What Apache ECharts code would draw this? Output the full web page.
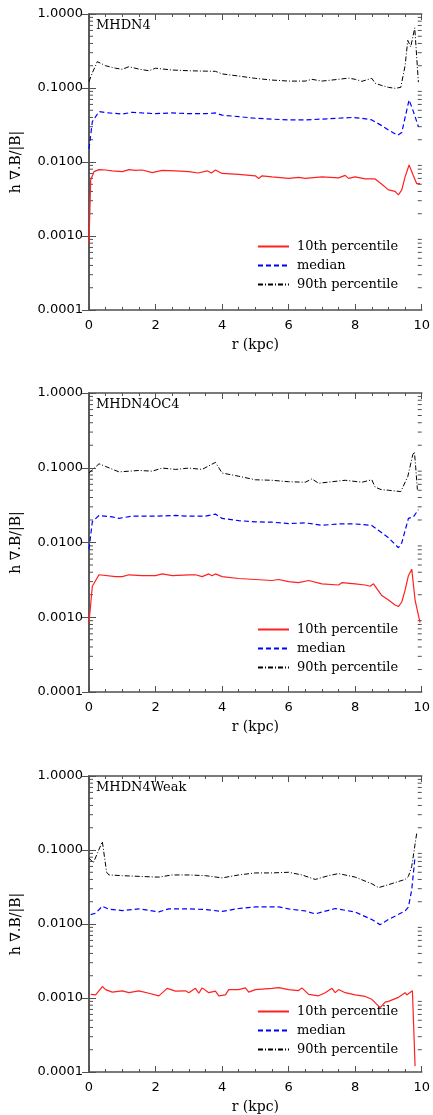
<!DOCTYPE html>
<html>
<head>
<meta charset="utf-8">
<script src="https://cdn.jsdelivr.net/npm/echarts@6/dist/echarts.min.js"></script>
<style>
html, body { margin: 0; padding: 0; background: #fff; }
#main { width: 433px; height: 1115px; }
</style>
</head>
<body>
<div id="main"></div>
<script>
// panel names and legend names
var panelNames = ["MHDN4", "MHDN4OC4", "MHDN4Weak"];
var seriesNames = ["10th percentile", "median", "90th percentile"];
var yTicks = [0.0001, 0.001, 0.01, 0.1, 1];
var xTicks = [0, 2, 4, 6, 8, 10];
// minor log ticks 2..9 of each decade
var minorY = [0.0002,0.0003,0.0004,0.0005,0.0006,0.0007,0.0008,0.0009,
	0.002,0.003,0.004,0.005,0.006,0.007,0.008,0.009,
	0.02,0.03,0.04,0.05,0.06,0.07,0.08,0.09,
	0.2,0.3,0.4,0.5,0.6,0.7,0.8,0.9];

// MHDN4  [r (kpc), value]
var p1Red = [[0,0.0008],[0.05,0.0057],[0.15,0.0074],[0.3,0.0079],[0.5,0.0078],[0.7,0.0076],[1.0,0.0074],[1.2,0.0079],[1.4,0.0077],[1.6,0.0078],[1.9,0.0072],[2.2,0.0077],[2.6,0.0076],[3.0,0.0074],[3.28,0.0071],[3.55,0.0076],[3.68,0.0071],[3.8,0.0078],[4.0,0.0070],[4.5,0.0068],[5.0,0.0065],[5.1,0.0060],[5.2,0.0065],[5.5,0.0063],[6.0,0.0060],[6.3,0.0062],[6.5,0.0060],[7.0,0.0063],[7.5,0.0061],[7.7,0.0066],[7.8,0.0060],[8.0,0.0063],[8.3,0.0059],[8.5,0.0059],[8.55,0.0056],[8.6,0.0059],[8.8,0.0050],[9.0,0.0042],[9.2,0.0040],[9.3,0.0036],[9.4,0.0042],[9.5,0.0063],[9.62,0.0091],[9.75,0.0065],[9.85,0.0051],[9.95,0.0051]];
var p1Med = [[0,0.015],[0.1,0.035],[0.3,0.048],[0.6,0.046],[1.0,0.0445],[1.3,0.047],[1.6,0.046],[2.0,0.045],[2.5,0.046],[3.0,0.045],[3.5,0.045],[3.8,0.046],[4.0,0.043],[4.5,0.041],[5.0,0.039],[5.5,0.038],[6.0,0.037],[6.5,0.037],[7.0,0.038],[7.5,0.039],[7.9,0.040],[8.2,0.039],[8.5,0.037],[8.8,0.031],[9.0,0.027],[9.28,0.023],[9.4,0.025],[9.5,0.04],[9.62,0.069],[9.75,0.048],[9.9,0.030]];
var p1P90 = [[0,0.122],[0.1,0.16],[0.25,0.227],[0.5,0.20],[0.8,0.185],[1.0,0.179],[1.2,0.194],[1.5,0.18],[1.8,0.171],[2.0,0.185],[2.5,0.175],[3.0,0.171],[3.5,0.169],[3.8,0.168],[4.0,0.155],[4.5,0.145],[5.0,0.135],[5.5,0.128],[6.0,0.124],[6.5,0.124],[6.7,0.131],[7.0,0.124],[7.5,0.131],[7.8,0.136],[8.0,0.131],[8.2,0.123],[8.5,0.135],[8.6,0.116],[8.8,0.108],[9.0,0.102],[9.2,0.099],[9.37,0.102],[9.5,0.2],[9.58,0.44],[9.67,0.36],[9.79,0.65],[9.85,0.68],[9.9,0.12]];

// MHDN4OC4
var p2Red = [[0,0.00085],[0.1,0.0026],[0.3,0.0037],[0.8,0.0035],[1.0,0.0035],[1.2,0.0037],[1.6,0.0036],[2.0,0.0036],[2.2,0.0038],[2.5,0.0036],[3.0,0.0037],[3.2,0.0037],[3.4,0.0035],[3.6,0.0038],[3.7,0.0036],[3.8,0.0038],[4.0,0.0035],[4.5,0.0033],[5.0,0.0032],[5.5,0.0031],[5.7,0.0032],[6.0,0.0030],[6.3,0.0029],[6.6,0.0031],[7.0,0.0028],[7.5,0.0027],[7.6,0.0029],[8.0,0.0028],[8.3,0.0027],[8.45,0.0026],[8.55,0.0028],[8.8,0.00195],[9.0,0.0017],[9.2,0.00146],[9.3,0.00139],[9.4,0.0016],[9.5,0.0023],[9.6,0.0036],[9.7,0.0044],[9.8,0.0017],[9.95,0.00085]];
var p2Med = [[0,0.0081],[0.1,0.019],[0.3,0.023],[0.7,0.022],[0.9,0.021],[1.3,0.0225],[2.0,0.0225],[2.6,0.023],[3.0,0.0225],[3.5,0.0225],[3.8,0.024],[4.0,0.021],[4.5,0.0196],[5.0,0.0189],[5.5,0.0187],[6.0,0.0179],[6.5,0.0183],[7.0,0.017],[7.5,0.0177],[8.0,0.0177],[8.5,0.0169],[8.8,0.0135],[9.0,0.0116],[9.3,0.0085],[9.4,0.0099],[9.6,0.021],[9.75,0.022],[9.9,0.0275]];
var p2P90 = [[0,0.085],[0.3,0.113],[0.5,0.104],[0.9,0.088],[1.5,0.092],[1.9,0.090],[2.2,0.099],[2.6,0.095],[3.0,0.099],[3.4,0.095],[3.6,0.106],[3.8,0.118],[4.0,0.085],[4.5,0.077],[5.0,0.069],[5.5,0.068],[6.0,0.065],[6.5,0.064],[6.7,0.071],[6.9,0.062],[7.3,0.065],[7.7,0.068],[8.2,0.064],[8.5,0.069],[8.6,0.055],[8.78,0.051],[9.0,0.050],[9.37,0.048],[9.58,0.076],[9.73,0.149],[9.78,0.163],[9.82,0.10],[9.87,0.051]];

// MHDN4Weak
var p3Red = [[0.05,0.00112],[0.2,0.0011],[0.4,0.00143],[0.5,0.0013],[0.7,0.0012],[1.0,0.00125],[1.2,0.00118],[1.5,0.00125],[1.8,0.00116],[2.1,0.00107],[2.35,0.00135],[2.6,0.00124],[2.9,0.00125],[3.0,0.00118],[3.2,0.00135],[3.3,0.00116],[3.4,0.00137],[3.6,0.00118],[3.8,0.00124],[3.9,0.00107],[4.1,0.0011],[4.2,0.0013],[4.5,0.0013],[4.7,0.00137],[4.8,0.0012],[5.0,0.0013],[5.5,0.00135],[5.7,0.00138],[6.0,0.0013],[6.3,0.00126],[6.4,0.00137],[6.6,0.00112],[6.9,0.00107],[7.1,0.00118],[7.3,0.00135],[7.4,0.00118],[7.5,0.0013],[7.7,0.00118],[8.0,0.0011],[8.3,0.00105],[8.5,0.00096],[8.75,0.00074],[8.9,0.00088],[9.0,0.0009],[9.3,0.00102],[9.5,0.00118],[9.55,0.0011],[9.72,0.00125],[9.8,0.00012]];
var p3Med = [[0.05,0.0134],[0.2,0.014],[0.4,0.0174],[0.6,0.0158],[1.0,0.0152],[1.5,0.016],[2.0,0.0148],[2.1,0.0146],[2.4,0.016],[3.0,0.016],[3.5,0.0157],[4.0,0.0148],[4.5,0.0162],[5.0,0.017],[5.7,0.017],[6.0,0.016],[6.5,0.015],[6.8,0.0137],[7.0,0.0145],[7.4,0.0162],[8.0,0.0145],[8.5,0.0115],[8.75,0.0098],[9.0,0.0115],[9.5,0.015],[9.6,0.017],[9.7,0.029],[9.8,0.082]];
var p3P90 = [[0,0.078],[0.13,0.067],[0.4,0.13],[0.53,0.05],[0.6,0.046],[1.0,0.045],[1.5,0.044],[2.1,0.043],[2.5,0.046],[3.0,0.046],[3.5,0.045],[4.0,0.042],[4.5,0.046],[5.0,0.049],[5.5,0.049],[6.0,0.050],[6.4,0.046],[6.8,0.040],[7.2,0.045],[7.5,0.048],[8.0,0.043],[8.5,0.035],[8.7,0.031],[9.0,0.034],[9.5,0.040],[9.6,0.044],[9.7,0.06],[9.8,0.12],[9.85,0.17]];

var panelData = [[p1Red, p1Med, p1P90], [p2Red, p2Med, p2P90], [p3Red, p3Med, p3P90]];

// layout of the three boxes
var gridTops = [14, 393, 776];
var gridHeights = [296, 299, 297];
var legendTops = [240, 623, 1005];

var axisColor = '#505050';
var serifFont = 'DejaVu Serif';
var sansFont = 'DejaVu Sans';
var lineStyles = [
	{ color: '#ff2020', width: 1.2, type: 'solid' },
	{ color: '#0000ff', width: 1.2, type: [5, 3] },
	{ color: '#000000', width: 1, type: [5, 2, 1, 2] }
];

var chart = echarts.init(document.getElementById('main'), null, { renderer: 'canvas' });

// small log ticks on both sides
function renderMinor(params, api) {
	var a = api.coord([0, api.value(1)]);
	var b = api.coord([10, api.value(1)]);
	var st = { stroke: axisColor, lineWidth: 1 };
	return {
		type: 'group',
		children: [
			{ type: 'line', shape: { x1: a[0], y1: a[1], x2: a[0] + 4, y2: a[1] }, style: st },
			{ type: 'line', shape: { x1: b[0], y1: b[1], x2: b[0] - 4, y2: b[1] }, style: st }
		]
	};
}

var grid = [], xAxis = [], yAxis = [], series = [], legend = [], title = [];

for (var i = 0; i < 3; i++) {
	grid.push({ left: 89, top: gridTops[i], width: 335, height: gridHeights[i], containLabel: false });

	title.push({
		text: panelNames[i], left: 96, top: gridTops[i] + 5, padding: 0,
		textStyle: { fontFamily: serifFont, fontSize: 13, fontWeight: 'normal', color: '#000' }
	});

	var tickLine = { lineStyle: { color: axisColor, width: 1.5 } };
	xAxis.push({
		gridIndex: i, type: 'value', min: 0, max: 10, interval: 2, position: 'bottom',
		name: 'r (kpc)', nameLocation: 'middle', nameGap: 28,
		nameTextStyle: { fontFamily: serifFont, fontSize: 14, color: '#000' },
		axisLine: tickLine,
		axisTick: { inside: true, length: 6, lineStyle: { color: axisColor } },
		minorTick: { show: true, splitNumber: 4, length: 3, lineStyle: { color: axisColor } },
		axisLabel: { margin: 9, fontFamily: sansFont, fontSize: 13, color: '#000' },
		splitLine: { show: false }
	});
	xAxis.push({
		gridIndex: i, type: 'value', min: 0, max: 10, interval: 2, position: 'top',
		axisLine: tickLine,
		axisTick: { inside: true, length: 6, lineStyle: { color: axisColor } },
		minorTick: { show: true, splitNumber: 4, length: 3, lineStyle: { color: axisColor } },
		axisLabel: { show: false },
		splitLine: { show: false }
	});
	yAxis.push({
		gridIndex: i, type: 'log', logBase: 10, min: yTicks[0], max: yTicks[yTicks.length - 1],
		position: 'left',
		name: 'h \u2207.B/|B|', nameLocation: 'middle', nameGap: 66,
		nameTextStyle: { fontFamily: serifFont, fontSize: 14, color: '#000' },
		axisLine: tickLine,
		axisTick: { inside: true, length: 7, lineStyle: { color: axisColor } },
		axisLabel: {
			margin: 6, fontFamily: sansFont, fontSize: 13, color: '#000',
			formatter: function (v) { return Number(v).toFixed(4); }
		},
		splitLine: { show: false }
	});
	yAxis.push({
		gridIndex: i, type: 'log', logBase: 10, min: yTicks[0], max: yTicks[yTicks.length - 1],
		position: 'right',
		axisLine: tickLine,
		axisTick: { inside: true, length: 7, lineStyle: { color: axisColor } },
		axisLabel: { show: false },
		splitLine: { show: false }
	});

	for (var s = 0; s < 3; s++) {
		series.push({
			name: seriesNames[s], type: 'line',
			xAxisIndex: 2 * i, yAxisIndex: 2 * i,
			data: panelData[i][s],
			symbol: 'none', showSymbol: false, smooth: false,
			lineStyle: lineStyles[s], itemStyle: { color: lineStyles[s].color },
			animation: false, z: 3 - s + 2
		});
	}

	series.push({
		type: 'custom', xAxisIndex: 2 * i, yAxisIndex: 2 * i,
		data: minorY.map(function (v) { return [0, v]; }),
		renderItem: renderMinor, silent: true, clip: false, animation: false
	});

	// legend: line sample only, no marker
	legend.push({
		data: seriesNames, orient: 'vertical', left: 257, top: legendTops[i],
		itemWidth: 31, itemHeight: 14, itemGap: 6, padding: 0,
		selectedMode: false,
		itemStyle: { opacity: 0 },
		textStyle: { fontFamily: serifFont, fontSize: 13, color: '#000', padding: [0, 0, 0, 3] }
	});
}

option = {
	backgroundColor: '#fff',
	animation: false,
	title: title,
	grid: grid,
	xAxis: xAxis,
	yAxis: yAxis,
	legend: legend,
	series: series
};
chart.setOption(option, true);
</script>
</body>
</html>
